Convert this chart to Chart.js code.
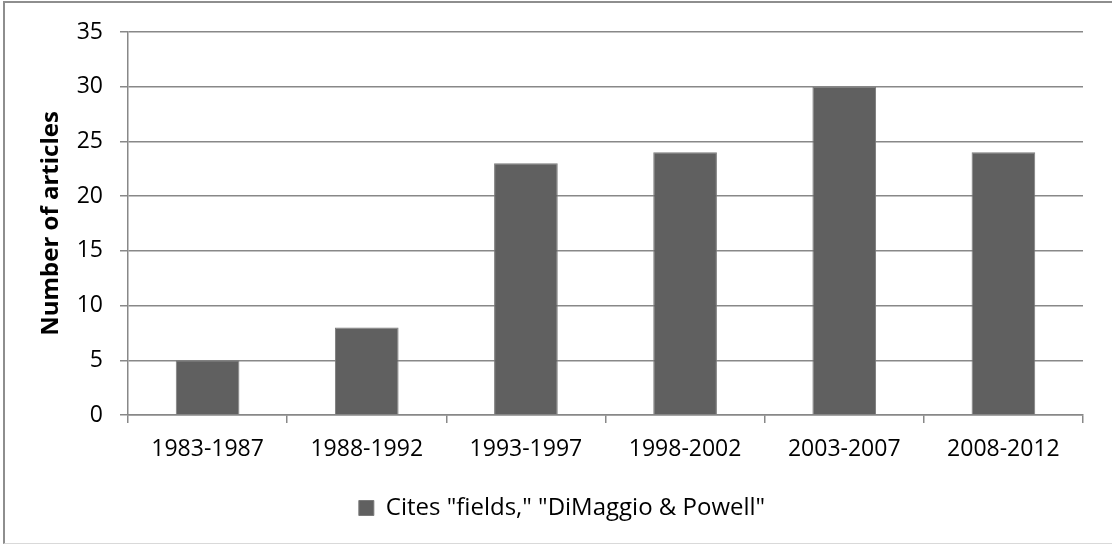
<!DOCTYPE html>
<html>
<head>
<meta charset="utf-8">
<script src="https://cdn.jsdelivr.net/npm/chart.js@4.4.1/dist/chart.umd.min.js"></script>
<style>
  html, body { margin: 0; padding: 0; background: #ffffff; }
  #wrap { position: relative; width: 1112px; height: 545px; overflow: hidden; }
  #frame {
    position: absolute; left: 3px; top: 1px; width: 1120px; height: 543px;
    border-left: 2px solid #8e8e8e; border-top: 2px solid #8e8e8e;
    border-bottom: 1px solid #d9d9d9; box-sizing: border-box;
  }
  canvas { position: absolute; left: 0; top: 0; }
</style>
</head>
<body>
<div id="wrap">
  <div id="frame"></div>
  <canvas id="c" width="1112" height="545"></canvas>
</div>
<script>
// Articles per five-year period
const periods = ['1983-1987', '1988-1992', '1993-1997', '1998-2002', '2003-2007', '2008-2012'];
const articleCounts = [5, 8, 23, 24, 30, 24];
const seriesName = 'Cites "fields," "DiMaggio & Powell"';
const yTicks = [0, 5, 10, 15, 20, 25, 30, 35];

const FONT = "'Open Sans', 'Liberation Sans', sans-serif";
const FONT_SIZE = 23;
const GRID = '#888888';

// Centre the legend across the whole frame rather than the padded layout box
const legendSpan = {
  id: 'legendSpan',
  afterLayout(chart) {
    if (chart.legend) {
      chart.legend.left = 41;
      chart.legend.right = 1083;
    }
  }
};

new Chart(document.getElementById('c'), {
  type: 'bar',
  data: {
    labels: periods,
    datasets: [{
      label: seriesName,
      data: articleCounts,
      backgroundColor: '#606060',
      borderColor: '#7a7a7a',
      borderWidth: 1,
      categoryPercentage: 1.0,
      barPercentage: 0.4
    }]
  },
  plugins: [legendSpan],
  options: {
    responsive: false,
    animation: false,
    devicePixelRatio: 1,
    layout: { padding: { top: 32, right: 29, bottom: 15, left: 0 } },
    plugins: {
      tooltip: { enabled: false },
      legend: {
        position: 'bottom',
        labels: {
          color: '#000000',
          font: { family: FONT, size: 24 },
          boxWidth: 15,
          boxHeight: 15,
          padding: 7
        }
      }
    },
    scales: {
      x: {
        offset: true,
        grid: {
          offset: true,
          drawOnChartArea: false,
          drawTicks: true,
          tickLength: 8,
          color: GRID,
          lineWidth: 1.5
        },
        border: { color: GRID, width: 1.5 },
        ticks: {
          color: '#000000',
          font: { family: FONT, size: FONT_SIZE },
          padding: 13,
          maxRotation: 0
        },
        afterFit: (s) => { s.height = 74; }
      },
      y: {
        min: 0,
        max: 35,
        afterBuildTicks: (s) => { s.ticks = yTicks.map(v => ({ value: v })); },
        grid: {
          color: GRID,
          lineWidth: 1.5,
          tickLength: 8
        },
        border: { color: GRID, width: 1.5 },
        ticks: {
          color: '#000000',
          font: { family: FONT, size: FONT_SIZE },
          padding: 17
        },
        title: {
          display: true,
          text: 'Number of articles',
          color: '#000000',
          font: { family: FONT, size: 24, weight: 'bold' },
          padding: { top: 37, bottom: 0 }
        },
        afterFit: (s) => { s.width = 128; }
      }
    }
  }
});
</script>
</body>
</html>
